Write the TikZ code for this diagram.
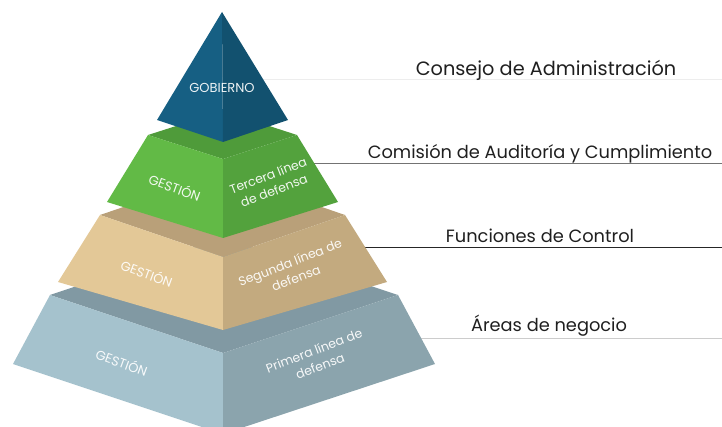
\documentclass[tikz,border=0pt]{standalone}
\usepackage{fontspec}
\setmainfont{Poppins}
\definecolor{bluL}{HTML}{165F83}
\definecolor{bluR}{HTML}{12516F}
\definecolor{grnL}{HTML}{62BA46}
\definecolor{grnR}{HTML}{53A23D}
\definecolor{grnT}{HTML}{4F9B3A}
\definecolor{tanL}{HTML}{E3C897}
\definecolor{tanR}{HTML}{C3AA7F}
\definecolor{tanT}{HTML}{B9A079}
\definecolor{slaL}{HTML}{A5C2CD}
\definecolor{slaR}{HTML}{8BA4AD}
\definecolor{slaT}{HTML}{8199A3}
\begin{document}
\begin{tikzpicture}[x=1pt,y=-1pt,
  facetext/.style={text=white, text opacity=0.92, font=\fontsize{12.5}{16.5}\selectfont, align=center, inner sep=0pt},
  captext/.style={facetext, font=\fontsize{13}{16}\selectfont},
  rlabel/.style={text=black!88, font=\fontsize{17.8}{20}\selectfont, inner sep=0pt},
  lineA/.style={draw=black!7, line width=1pt},
  lineB/.style={draw=black!55, line width=0.8pt},
  lineC/.style={draw=black!85, line width=0.9pt},
  lineD/.style={draw=black!20, line width=0.8pt}]
\useasboundingbox (0,0) rectangle (722,427);
% leader lines (behind pyramid)
\coordinate (l1a) at (240,80);  \coordinate (l1b) at (722,80);
\coordinate (l2a) at (280,163); \coordinate (l2b) at (722,163);
\coordinate (l3a) at (340,247); \coordinate (l3b) at (722,247);
\coordinate (l4a) at (380,338); \coordinate (l4b) at (722,338);
\draw[lineA] (l1a) -- (l1b);
\draw[lineB] (l2a) -- (l2b);
\draw[lineC] (l3a) -- (l3b);
\draw[lineD] (l4a) -- (l4b);
% bottom tier
\fill[slaT] (50,295) -- (223,237) -- (398,295) -- (223,353) -- cycle;
\fill[slaL] (50,295) -- (223,353) -- (223,434) -- (13,364) -- cycle;
\fill[slaR] (223,353) -- (398,295) -- (435,364) -- (223,434) -- cycle;
% tan tier
\fill[tanT] (100,215) -- (223,173) -- (345,215) -- (223,257) -- cycle;
\fill[tanL] (100,215) -- (223,257) -- (223,330) -- (58,282) -- cycle;
\fill[tanR] (223,257) -- (345,215) -- (387,282) -- (223,330) -- cycle;
% green tier
\fill[grnT] (148,135) -- (223,111) -- (297,135) -- (223,159) -- cycle;
\fill[grnL] (148,135) -- (223,159) -- (223,238) -- (107,202) -- cycle;
\fill[grnR] (223,159) -- (297,135) -- (338,202) -- (223,238) -- cycle;
% top pyramid
\fill[bluL] (222,12) -- (157,120) -- (223,142) -- cycle;
\fill[bluR] (222,12) -- (223,142) -- (288,120) -- cycle;
% face texts
\node[captext] (gob) at (222,88) {GOBIERNO};
\node[captext, rotate=-20] (g1) at (175,187) {GESTIÓN};
\node[facetext, rotate=21] (t1) at (271,183) {Tercera línea\\de defensa};
\node[captext, rotate=-20] (g2) at (147,273) {GESTIÓN};
\node[facetext, rotate=21] (t2) at (293,270) {Segunda línea de\\defensa};
\node[captext, rotate=-20] (g3) at (122,362) {GESTIÓN};
\node[facetext, rotate=21] (t3) at (317,358) {Primera línea de\\defensa};
% right labels
\node[rlabel, font=\fontsize{19.3}{22}\selectfont] (r1) at (546,70) {Consejo de Administración};
\node[rlabel] (r2) at (540,154) {Comisión de Auditoría y Cumplimiento};
\node[rlabel] (r3) at (540,236) {Funciones de Control};
\node[rlabel] (r4) at (549,326) {Áreas de negocio};
\end{tikzpicture}
\end{document}
